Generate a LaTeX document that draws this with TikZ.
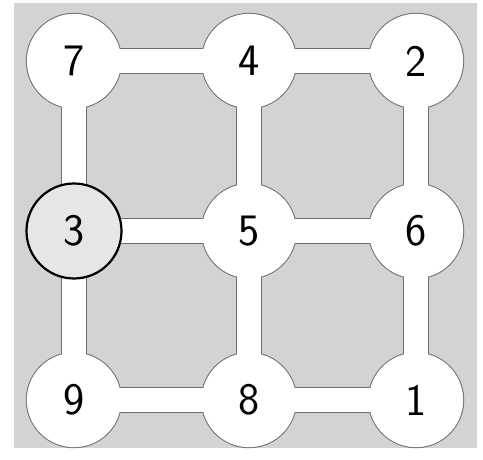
\documentclass[tikz,border=0pt]{standalone}
\usepackage{fontspec}
\definecolor{bg}{RGB}{211,211,211}
\definecolor{edge}{RGB}{110,110,110}
\definecolor{selfill}{RGB}{230,230,230}
\begin{document}
\begin{tikzpicture}[x=1pt,y=-1pt,
  spot/.style={circle,minimum size=95pt,inner sep=0pt},
  label/.style={font=\sffamily\fontsize{45}{50}\selectfont},
  roadout/.style={line width=25.6pt,draw=edge},
  roadin/.style={line width=23.6pt,draw=white},
  spotout/.style={fill=edge},
  spotin/.style={fill=white}]
\useasboundingbox (0,0) rectangle (483,459);
\fill[bg] (14,3) rectangle (477,448);
% node positions
\coordinate (p7) at (74,61);
\coordinate (p4) at (249,61);
\coordinate (p2) at (416,61);
\coordinate (p3) at (74,231);
\coordinate (p5) at (249,231);
\coordinate (p6) at (416,231);
\coordinate (p9) at (74,400);
\coordinate (p8) at (249,400);
\coordinate (p1) at (416,400);
% outlines
\foreach \a/\b in {7/4,4/2,3/5,5/6,9/8,8/1,7/3,3/9,4/5,5/8,2/6,6/1}
  \draw[roadout] (p\a) -- (p\b);
\foreach \n in {7,4,2,3,5,6,9,8,1}
  \fill[edge] (p\n) circle (48.2);
% white fills
\foreach \a/\b in {7/4,4/2,3/5,5/6,9/8,8/1,7/3,3/9,4/5,5/8,2/6,6/1}
  \draw[roadin] (p\a) -- (p\b);
\foreach \n in {7,4,2,5,6,9,8,1}
  \fill[white] (p\n) circle (47.2);
% nodes with labels
\foreach \n in {7,4,2,5,6,9,8,1}
  \node[spot,label] (n\n) at (p\n) {\n};
\node[spot,label,fill=selfill,draw=black,line width=2.2pt] (n3) at (p3) {3};
\end{tikzpicture}
\end{document}
